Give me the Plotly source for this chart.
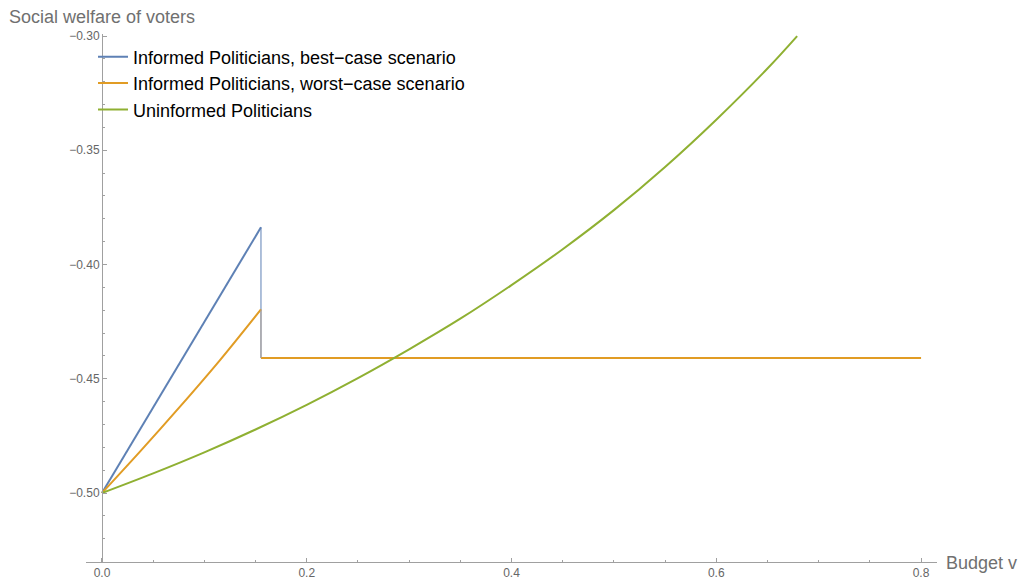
import plotly.graph_objects as go

# ---- data ----
blue_x = [0.0, 0.1553]
blue_y = [-0.500, -0.3837]

orange_x = [0.0, 0.0371, 0.0762, 0.1153, 0.1553]
orange_y = [-0.500, -0.4819, -0.4622, -0.4418, -0.4196]

jump_x = 0.1553
flat_y = -0.4409
flat_end_x = 0.8

green_x = [0.0, 0.05, 0.10, 0.15, 0.20, 0.25, 0.30, 0.35, 0.40, 0.45, 0.50, 0.55, 0.60, 0.65, 0.679]
green_y = [-0.5000, -0.4914, -0.4822, -0.4722, -0.4614, -0.4497, -0.4371, -0.4237,
           -0.4090, -0.3933, -0.3762, -0.3573, -0.3366, -0.3142, -0.3000]

names = ["Informed Politicians, best\u2212case scenario",
         "Informed Politicians, worst\u2212case scenario",
         "Uninformed Politicians"]
colors = ["#5E81B5", "#E19C24", "#8FB032"]

x_ticks = [0.0, 0.2, 0.4, 0.6, 0.8]
y_ticks = [-0.50, -0.45, -0.40, -0.35, -0.30]

FONT = "Liberation Sans, Arial, sans-serif"

fig = go.Figure()

fig.add_trace(go.Scatter(x=blue_x + [None, jump_x, flat_end_x],
                         y=blue_y + [None, flat_y, flat_y],
                         mode="lines", line=dict(color=colors[0], width=2),
                         name=names[0]))
fig.add_trace(go.Scatter(x=[jump_x, jump_x], y=[blue_y[-1], flat_y],
                         mode="lines", line=dict(color=colors[0], width=1),
                         showlegend=False, hoverinfo="skip"))
fig.add_trace(go.Scatter(x=orange_x + [None, jump_x, flat_end_x],
                         y=orange_y + [None, flat_y, flat_y],
                         mode="lines", line=dict(color=colors[1], width=2, shape="spline"),
                         name=names[1]))
fig.add_trace(go.Scatter(x=[jump_x, jump_x], y=[orange_y[-1], flat_y],
                         mode="lines", line=dict(color="#B0A090", width=1),
                         showlegend=False, hoverinfo="skip"))
fig.add_trace(go.Scatter(x=green_x, y=green_y, mode="lines",
                         line=dict(color=colors[2], width=2, shape="spline"),
                         name=names[2]))

axis_col = "#A0A0A0"
tick_font = dict(family=FONT, size=12, color="#666666")

L, R, T, B = 86, 85, 34, 18
W, H = 1022, 580
pw = W - L - R
ph = H - T - B
xr = [-0.0156, 0.8156]
yr = [-0.5302, -0.2991]
ypos = (0 - xr[0]) / (xr[1] - xr[0])

fig.update_layout(
    width=W, height=H,
    margin=dict(l=L, r=R, t=T, b=B, autoexpand=False),
    plot_bgcolor="white", paper_bgcolor="white",
    font=dict(family=FONT),
    xaxis=dict(range=xr, showgrid=False, zeroline=False, showline=True, automargin=False,
               linecolor=axis_col, linewidth=1,
               ticks="inside", ticklen=4, tickcolor=axis_col,
               tickvals=x_ticks, ticktext=[f"{v:.1f}" for v in x_ticks],
               tickfont=tick_font,
               minor=dict(dtick=0.05, tick0=0, ticks="inside", ticklen=2, tickcolor=axis_col)),
    yaxis=dict(range=yr, showgrid=False, zeroline=False, showline=True, automargin=False,
               linecolor=axis_col, linewidth=1, anchor="free", position=ypos,
               ticks="inside", ticklen=4, tickcolor=axis_col,
               tickvals=y_ticks, ticktext=[f"\u2212{abs(v):.2f}" for v in y_ticks],
               tickfont=tick_font,
               minor=dict(dtick=0.01, tick0=-0.5, ticks="inside", ticklen=2, tickcolor=axis_col)),
    legend=dict(x=(93 - L) / pw, y=1 - (38.5 - T) / ph, xanchor="left", yanchor="top",
                bgcolor="rgba(0,0,0,0)", font=dict(family=FONT, size=18, color="#000000")),
    annotations=[
        dict(text="Social welfare of voters", xref="paper", yref="paper",
             x=(7 - L) / pw, y=1 + (T - 17) / ph, xanchor="left", yanchor="middle",
             showarrow=False, font=dict(family=FONT, size=18, color="#707070")),
        dict(text="Budget v", xref="paper", yref="paper",
             x=(1019 - L) / pw, y=(H - B - 563) / ph, xanchor="right", yanchor="middle",
             showarrow=False, font=dict(family=FONT, size=18, color="#707070")),
    ],
)

fig.write_html(
    "out.html",
    config={"displayModeBar": False},
    post_script="document.body.style.margin='0';document.body.style.padding='0';"
                "document.body.style.overflow='hidden';",
)
